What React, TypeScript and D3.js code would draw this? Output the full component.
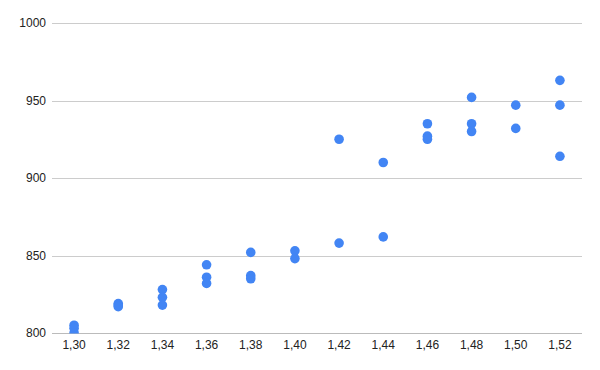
import { useEffect, useRef } from "react";
import * as d3 from "d3";

const DOT_COLOR = "#4285f4";

// measured x (spacing) and y (value) for every point
const xValues = [
  1.3, 1.3, 1.3,
  1.32, 1.32, 1.32,
  1.34, 1.34, 1.34,
  1.36, 1.36, 1.36,
  1.38, 1.38, 1.38,
  1.4, 1.4,
  1.42, 1.42,
  1.44, 1.44,
  1.46, 1.46, 1.46,
  1.48, 1.48, 1.48,
  1.5, 1.5,
  1.52, 1.52, 1.52,
];
const yValues = [
  805, 803, 800,
  819, 818, 817,
  828, 823, 818,
  844, 836, 832,
  852, 837, 835,
  853, 848,
  925, 858,
  910, 862,
  935, 927, 925,
  952, 935, 930,
  947, 932,
  963, 947, 914,
];
const xTicks = [1.3, 1.32, 1.34, 1.36, 1.38, 1.4, 1.42, 1.44, 1.46, 1.48, 1.5, 1.52];
const yTicks = [800, 850, 900, 950, 1000];

export default function App() {
  const svgRef = useRef<SVGSVGElement | null>(null);

  useEffect(() => {
    if (!svgRef.current) return;
    const svg = d3.select(svgRef.current);
    svg.selectAll("*").remove();

    const margin = { top: 23, right: 18, bottom: 37, left: 52 };
    const width = 600;
    const height = 370;

    const x = d3.scaleLinear().domain([1.29, 1.53]).range([margin.left, width - margin.right]);
    const y = d3.scaleLinear().domain([800, 1000]).range([height - margin.bottom, margin.top]);

    const fmt = (d: number) => d.toFixed(2).replace(".", ",");

    svg
      .append("defs")
      .append("clipPath")
      .attr("id", "plot-clip")
      .append("rect")
      .attr("x", margin.left)
      .attr("y", 0)
      .attr("width", width - margin.left - margin.right)
      .attr("height", Math.round(y(800)) + 0.5);

    const grid = svg.append("g");
    grid
      .selectAll("line")
      .data(yTicks)
      .enter()
      .append("line")
      .attr("x1", margin.left)
      .attr("x2", width - margin.right)
      .attr("y1", (d) => Math.round(y(d)) + 0.5)
      .attr("y2", (d) => Math.round(y(d)) + 0.5)
      .attr("stroke", (d) => (d === 800 ? "#bbbbbb" : "#cccccc"))
      .attr("stroke-width", 1);

    svg
      .append("g")
      .selectAll("text")
      .data(yTicks)
      .enter()
      .append("text")
      .attr("x", margin.left - 6)
      .attr("y", (d) => y(d))
      .attr("dy", "0.35em")
      .attr("text-anchor", "end")
      .style("font-family", "Arial, 'Liberation Sans', sans-serif")
      .style("font-size", "12px")
      .attr("fill", "#222")
      .text((d) => d);

    svg
      .append("g")
      .selectAll("text")
      .data(xTicks)
      .enter()
      .append("text")
      .attr("x", (d) => x(d))
      .attr("y", height - margin.bottom + 16)
      .attr("text-anchor", "middle")
      .style("font-family", "Arial, 'Liberation Sans', sans-serif")
      .style("font-size", "12px")
      .attr("fill", "#222")
      .text((d) => fmt(d));

    svg
      .append("g")
      .attr("clip-path", "url(#plot-clip)")
      .selectAll("circle")
      .data(d3.range(xValues.length))
      .enter()
      .append("circle")
      .attr("cx", (i) => x(xValues[i]))
      .attr("cy", (i) => y(yValues[i]))
      .attr("r", 4.8)
      .attr("fill", DOT_COLOR);
  }, []);

  return (
    <div style={{ margin: -8, width: 600, height: 370, background: "#fff" }}>
      <svg ref={svgRef} width={600} height={370} style={{ display: "block" }} />
    </div>
  );
}
